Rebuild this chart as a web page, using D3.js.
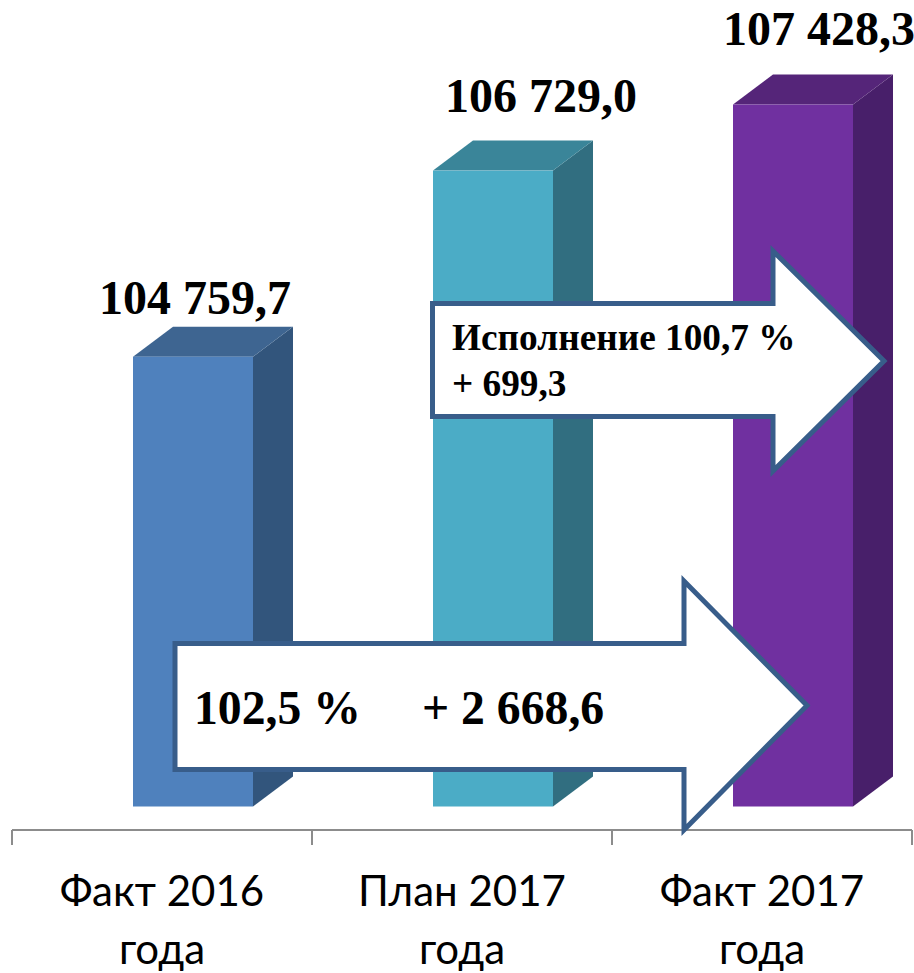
<!DOCTYPE html>
<html>
<head>
<meta charset="utf-8">
<script src="https://d3js.org/d3.v7.min.js"></script>
<style>
	html, body { margin: 0; padding: 0; background: #fff; }
	svg { display: block; }
	.value { font-family: "Liberation Serif", serif; font-weight: bold; font-size: 48px; text-anchor: middle; }
	.note { font-family: "Liberation Serif", serif; font-weight: bold; fill: #000; }
	.cat { font-family: Lato, "Open Sans", sans-serif; font-size: 42px; text-anchor: middle; fill: #000; }
</style>
</head>
<body>
<svg width="914" height="973"></svg>
<script>
var categories = [["Факт 2016", "года"], ["План 2017", "года"], ["Факт 2017", "года"]];
var values = [104759.7, 106729.0, 107428.3];
var valueLabels = ["104 759,7", "106 729,0", "107 428,3"];
var frontColors = ["#4f81bd", "#4bacc6", "#7030a0"];
var sideColors = ["#32557c", "#316e80", "#481f6a"];
var topColors = ["#3e6591", "#3a8599", "#552579"];
var upperNote = ["Исполнение 100,7 %", "+ 699,3"];
var lowerNote = ["102,5 %", "+ 2 668,6"];

var svg = d3.select("svg");

var x = d3.scaleBand().domain(d3.range(categories.length)).range([12, 912]);
var y = d3.scaleLinear().domain([100000, 108000]).range([806.5, 50.5]);

var barWidth = 120, depthX = 40, depthY = 30;
// the 3d chart sits a bit right of the band centre
var barLeft = function(i) { return x(i) + (x.bandwidth() - barWidth) / 2 + 31; };
var line = d3.line();

// axis line and ticks on the band edges
var edges = d3.range(categories.length).map(function(i) { return x(i); }).concat([x.range()[1]]);
var axis = svg.append("g").attr("stroke", "#8c8c8c").attr("stroke-width", 2);
axis.append("line").attr("x1", x.range()[0]).attr("x2", x.range()[1]).attr("y1", 830).attr("y2", 830);
axis.selectAll("line.tick").data(edges).enter().append("line")
	.attr("class", "tick")
	.attr("x1", function(d) { return d; }).attr("x2", function(d) { return d; })
	.attr("y1", 830).attr("y2", 845);

// 3d bars: side, top, front
var bars = svg.selectAll("g.bar").data(values).enter().append("g").attr("class", "bar");

bars.append("path").attr("fill", function(d, i) { return sideColors[i]; })
	.attr("d", function(d, i) {
		var r = barLeft(i) + barWidth, t = y(d), b = y.range()[0];
		return line([[r, t], [r + depthX, t - depthY], [r + depthX, b - depthY], [r, b]]) + "Z";
	});
bars.append("path").attr("fill", function(d, i) { return topColors[i]; })
	.attr("d", function(d, i) {
		var l = barLeft(i), t = y(d);
		return line([[l, t], [l + depthX, t - depthY], [l + barWidth + depthX, t - depthY], [l + barWidth, t]]) + "Z";
	});
bars.append("rect").attr("fill", function(d, i) { return frontColors[i]; })
	.attr("x", function(d, i) { return barLeft(i); })
	.attr("y", function(d) { return y(d); })
	.attr("width", barWidth)
	.attr("height", function(d) { return y.range()[0] - y(d); });

// value labels
var labelBase = [314, 112, 45];
var labelCenter = [195, 541, 819];
svg.selectAll("text.value").data(valueLabels).enter().append("text")
	.attr("class", "value")
	.attr("x", function(d, i) { return labelCenter[i]; })
	.attr("y", function(d, i) { return labelBase[i]; })
	.text(function(d) { return d; });

// category labels
categories.forEach(function(c, i) {
	c.forEach(function(t, j) {
		svg.append("text").attr("class", "cat")
			.attr("x", x(i) + x.bandwidth() / 2)
			.attr("y", 906 + j * 58)
			.text(t);
	});
});

// block arrows
function arrow(l, t, b, hx, ht, hb, tip) {
	var cy = (ht + hb) / 2;
	svg.append("path")
		.attr("fill", "#fff").attr("stroke", "#385d8a").attr("stroke-width", 5)
		.attr("stroke-linejoin", "miter")
		.attr("d", line([[l, t], [hx, t], [hx, ht], [tip, cy], [hx, hb], [hx, b], [l, b]]) + "Z");
}
arrow(432.5, 303.5, 416.5, 773, 251, 471, 884);
arrow(175, 643.5, 769.5, 684, 581, 830, 807);

svg.append("text").attr("class", "note").attr("x", 452).attr("y", 350).attr("font-size", 37.3).text(upperNote[0]);
svg.append("text").attr("class", "note").attr("x", 452).attr("y", 396).attr("font-size", 37.3).text(upperNote[1]);
svg.append("text").attr("class", "note").attr("x", 194).attr("y", 724).attr("font-size", 47.7).text(lowerNote[0]);
svg.append("text").attr("class", "note").attr("x", 422).attr("y", 724).attr("font-size", 47.7).text(lowerNote[1]);
</script>
</body>
</html>
